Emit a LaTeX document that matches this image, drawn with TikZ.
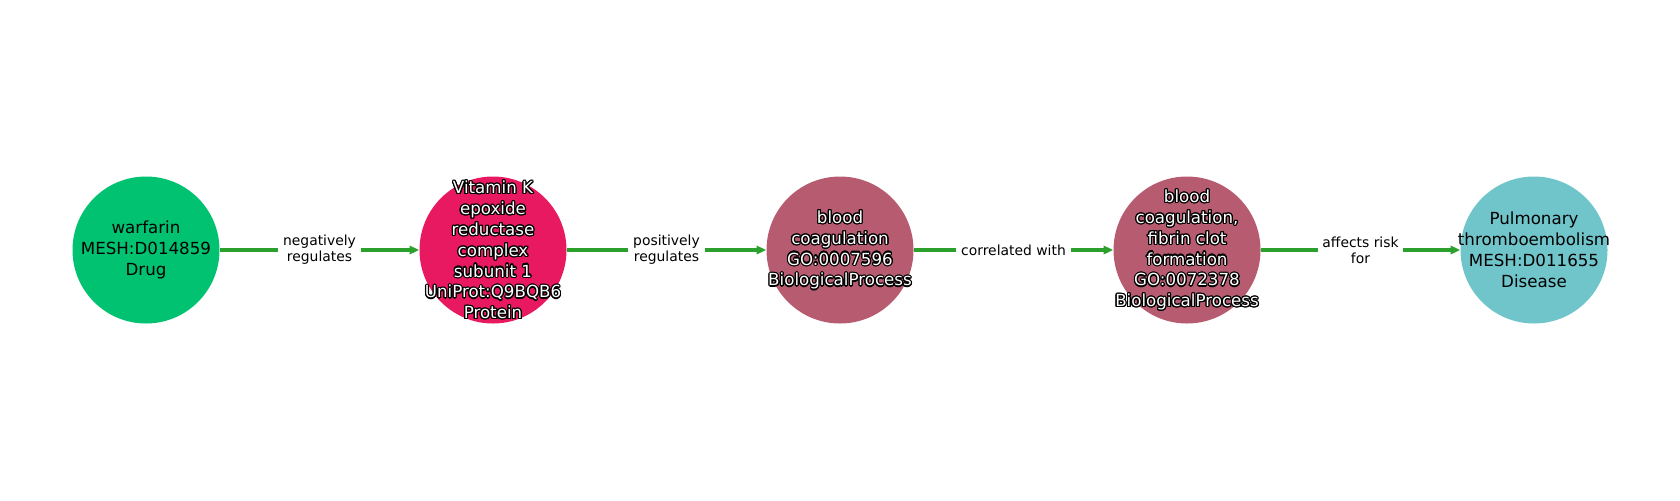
\documentclass[tikz,border=0pt]{standalone}
\usepackage{fontspec}
\setmainfont{DejaVu Sans}
\usetikzlibrary{arrows.meta}
\definecolor{drugc}{RGB}{0,194,112}
\definecolor{protc}{RGB}{232,25,96}
\definecolor{procc}{RGB}{183,92,112}
\definecolor{disc}{RGB}{112,197,202}
\definecolor{edgec}{RGB}{44,160,44}
\tikzset{
  ent/.style={circle, minimum size=147*0.72pt, inner sep=0pt, draw=none},
  lbl/.style={align=center, inner sep=0pt, font=\fontsize{12pt}{15pt}\selectfont},
  edge/.style={draw=edgec, line width=2.9pt, -{Triangle[length=7pt,width=6pt]}},
  elbl/.style={fill=white, align=center, inner xsep=3.5pt, inner ysep=2pt, text=black, font=\fontsize{10pt}{11.5pt}\selectfont},
}
\newcommand\outlinedlabel[2]{%
  \foreach \ang in {0,22.5,...,337.5} {
    \node[lbl, text=black, shift={(\ang:0.85pt)}] at (#1) {#2};
  }
  \node[lbl, text=white] at (#1) {#2};
}
\begin{document}
\begin{tikzpicture}[x=0.72pt, y=-0.72pt]
\useasboundingbox (0,0) rectangle (1680,500);
\node[ent, fill=drugc] (n1) at (146,250) {};
\node[ent, fill=protc] (n2) at (493,250) {};
\node[ent, fill=procc] (n3) at (840,250) {};
\node[ent, fill=procc] (n4) at (1187,250) {};
\node[ent, fill=disc]  (n5) at (1534,250) {};

\draw[edge] (n1) -- node[elbl] {negatively\\regulates} (n2);
\draw[edge] (n2) -- node[elbl] {positively\\regulates} (n3);
\draw[edge] (n3) -- node[elbl] {correlated with} (n4);
\draw[edge] (n4) -- node[elbl] {affects risk\\for} (n5);

\node[lbl, text=black] (t1) at (n1) {warfarin\\MESH:D014859\\Drug};
\outlinedlabel{n2}{Vitamin K\\epoxide\\reductase\\complex\\subunit 1\\UniProt:Q9BQB6\\Protein}
\outlinedlabel{n3}{blood\\coagulation\\GO:0007596\\BiologicalProcess}
\outlinedlabel{n4}{blood\\coagulation,\\fibrin clot\\formation\\GO:0072378\\BiologicalProcess}
\node[lbl, text=black] (t5) at (n5) {Pulmonary\\thromboembolism\\MESH:D011655\\Disease};
\end{tikzpicture}
\end{document}
